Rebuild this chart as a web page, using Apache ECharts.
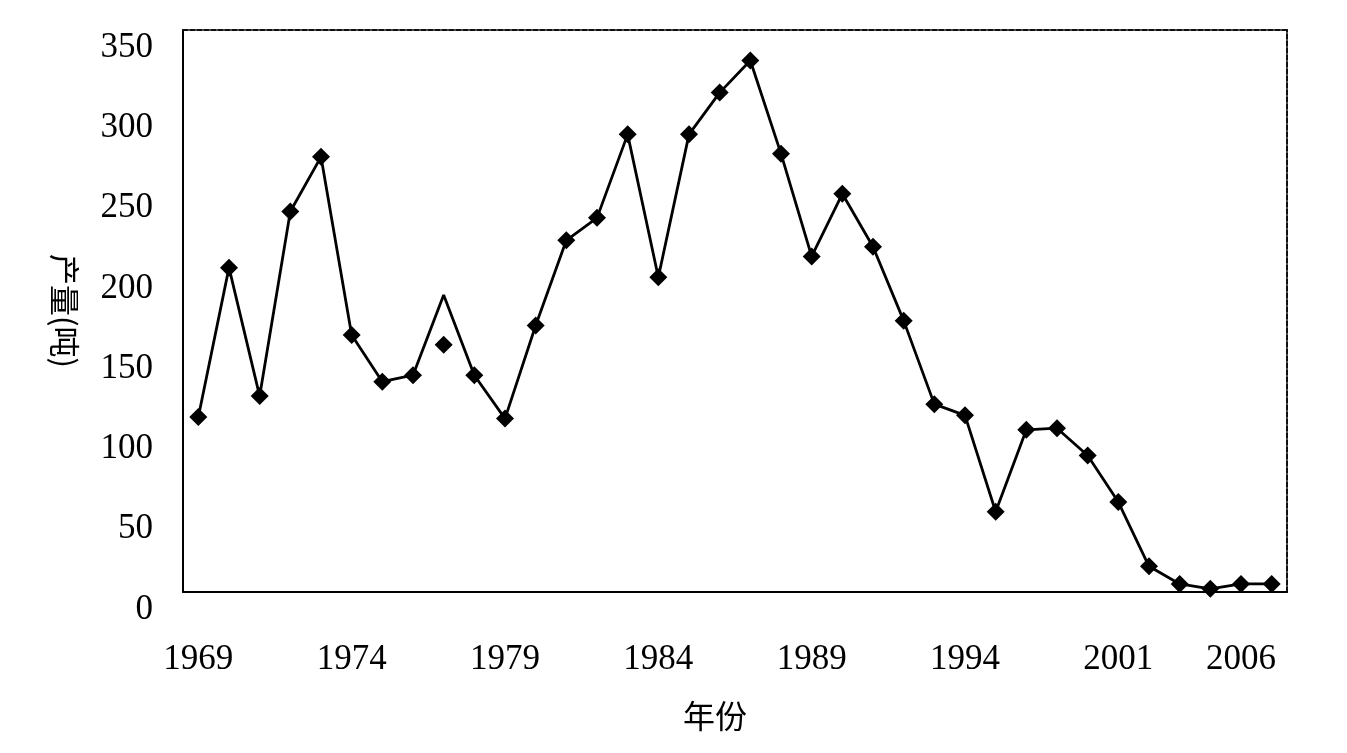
<!DOCTYPE html>
<html>
<head>
<meta charset="utf-8">
<script src="https://cdn.jsdelivr.net/npm/echarts@6/dist/echarts.min.js"></script>
<style>
  html, body { margin: 0; padding: 0; background: #fff; }
  #main { width: 1347px; height: 753px; }
</style>
</head>
<body>
<div id="main"></div>
<script>
// x 轴刻度标签（原图只标注这几个年份）
const xLabels = [
  '1969', '', '', '', '', '1974', '', '', '', '', '1979', '', '', '', '', '1984', '', '', '',
  '', '1989', '', '', '', '', '1994', '', '', '', '', '2001', '', '', '', '2006', ''
];
// 产量（吨）
const output = [
  109, 202, 122, 237, 271, 160, 131, 135, 185, 135, 108, 166, 219, 233, 285, 196, 285, 311,
  331, 273, 209, 248, 215, 169, 117, 110, 50, 101, 102, 85, 56, 16, 5, 2, 5, 5
];
// 1977 年的点标记与折线不重合
const offIndex = 8;
const offValue = 154;
const yTicks = [0, 50, 100, 150, 200, 250, 300, 350];

const serif = '"Liberation Serif", "DejaVu Serif", serif';
const cjk = '"Noto Sans CJK SC", sans-serif';

const lineData = output.map((v, i) => (i === offIndex ? { value: v, symbol: 'none' } : v));
const offData = xLabels.map((_, i) => (i === offIndex ? offValue : '-'));

const option = {
  animation: false,
  backgroundColor: '#fff',
  grid: { left: 183, right: 60, top: 30, bottom: 161 },
  xAxis: [
    {
      type: 'category',
      data: xLabels,
      boundaryGap: true,
      name: '年份',
      nameLocation: 'middle',
      nameGap: 108,
      nameTextStyle: { fontFamily: cjk, fontSize: 32, color: '#000', padding: [0, 40, 0, 0] },
      axisLine: { onZero: false, lineStyle: { color: '#000', width: 2 } },
      axisTick: { show: false },
      axisLabel: { interval: 0, margin: 50, fontFamily: serif, fontSize: 35, color: '#000' },
      splitLine: { show: false },
    },
    {
      type: 'category',
      data: xLabels,
      position: 'top',
      axisLine: { show: true, onZero: false, lineStyle: { color: '#111', width: 2, type: [5, 2] } },
      axisTick: { show: false },
      axisLabel: { show: false },
    },
  ],
  yAxis: [
    {
      type: 'value',
      min: 0,
      max: 350,
      interval: 50,
      name: '产量(吨)',
      nameLocation: 'middle',
      nameRotate: -90,
      nameGap: 103,
      nameTextStyle: { fontFamily: cjk, fontSize: 31, color: '#000' },
      axisLine: { show: true, onZero: false, lineStyle: { color: '#000', width: 2 } },
      axisTick: { show: false },
      axisLabel: {
        margin: 30,
        fontFamily: serif,
        fontSize: 35,
        color: '#000',
        verticalAlign: 'top',
        formatter: (v) => (yTicks.includes(v) ? String(v) : ''),
      },
      splitLine: { show: false },
    },
    {
      type: 'value',
      min: 0,
      max: 350,
      interval: 50,
      position: 'right',
      axisLine: { show: true, onZero: false, lineStyle: { color: '#111', width: 2, type: [5, 2] } },
      axisTick: { show: false },
      axisLabel: { show: false },
      splitLine: { show: false },
    },
  ],
  series: [
    {
      type: 'line',
      data: lineData,
      symbol: 'diamond',
      symbolSize: 18,
      itemStyle: { color: '#000' },
      lineStyle: { color: '#000', width: 2.8 },
      z: 3,
    },
    {
      type: 'scatter',
      data: offData,
      symbol: 'diamond',
      symbolSize: 18,
      itemStyle: { color: '#000', opacity: 1 },
      z: 4,
    },
  ],
};

const myChart = echarts.init(document.getElementById('main'));
myChart.setOption(option);
</script>
</body>
</html>
